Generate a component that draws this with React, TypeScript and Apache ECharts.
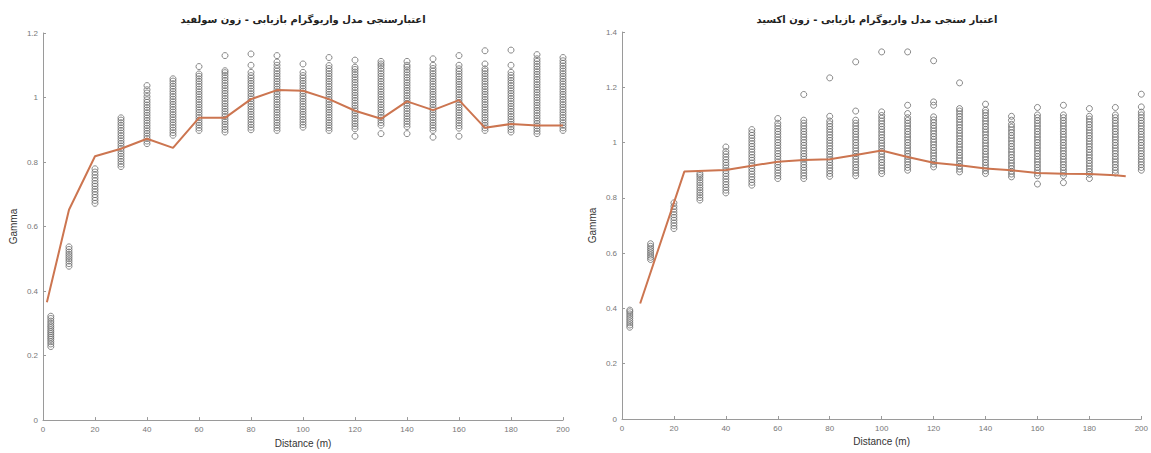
import React, { useEffect, useRef } from "react";
import * as echarts from "echarts";

// ---------- Titles / labels ----------
const sulfideTitle = "اعتبارسنجی مدل واریوگرام بازیابی - زون سولفید";
const oxideTitle = "اعتبار سنجی مدل واریوگرام بازیابی - زون اکسید";
const xName = "Distance (m)";
const yName = "Gamma";

// ---------- Sulfide zone (left) ----------
const sulfideLags = [3, 10, 20, 30, 40, 50, 60, 70, 80, 90, 100, 110, 120, 130, 140, 150, 160, 170, 180, 190, 200];
const sulfidePoints: number[][] = [
  [0.228, 0.236, 0.243, 0.25, 0.256, 0.262, 0.268, 0.274, 0.28, 0.287, 0.293, 0.3, 0.307, 0.315, 0.322],
  [0.477, 0.485, 0.493, 0.5, 0.507, 0.514, 0.521, 0.529, 0.537],
  [0.672, 0.681, 0.69, 0.699, 0.708, 0.716, 0.725, 0.733, 0.742, 0.751, 0.76, 0.769, 0.779],
  [0.786, 0.794, 0.802, 0.81, 0.818, 0.826, 0.834, 0.842, 0.85, 0.858, 0.866, 0.874, 0.882, 0.89, 0.898, 0.906, 0.914, 0.922, 0.93, 0.937],
  [0.857, 0.865, 0.873, 0.881, 0.889, 0.897, 0.905, 0.913, 0.921, 0.929, 0.937, 0.945, 0.953, 0.961, 0.969, 0.977, 0.985, 0.993, 1.003, 1.014, 1.024, 1.037],
  [0.883, 0.891, 0.899, 0.907, 0.915, 0.923, 0.931, 0.939, 0.947, 0.955, 0.963, 0.971, 0.979, 0.987, 0.995, 1.003, 1.011, 1.019, 1.027, 1.035, 1.043, 1.051, 1.058],
  [0.898, 0.906, 0.914, 0.922, 0.93, 0.938, 0.946, 0.954, 0.962, 0.97, 0.978, 0.986, 0.994, 1.002, 1.01, 1.018, 1.026, 1.034, 1.042, 1.05, 1.058, 1.066, 1.073, 1.096],
  [0.893, 0.901, 0.909, 0.917, 0.925, 0.933, 0.941, 0.949, 0.957, 0.965, 0.973, 0.981, 0.989, 0.997, 1.005, 1.013, 1.021, 1.029, 1.037, 1.045, 1.053, 1.061, 1.069, 1.077, 1.083, 1.13],
  [0.9, 0.908, 0.916, 0.924, 0.932, 0.94, 0.948, 0.956, 0.964, 0.972, 0.98, 0.988, 0.996, 1.004, 1.012, 1.02, 1.028, 1.036, 1.044, 1.052, 1.06, 1.068, 1.078, 1.1, 1.135],
  [0.898, 0.906, 0.914, 0.922, 0.93, 0.938, 0.946, 0.954, 0.962, 0.97, 0.978, 0.986, 0.994, 1.002, 1.01, 1.018, 1.026, 1.034, 1.042, 1.05, 1.058, 1.066, 1.074, 1.082, 1.09, 1.1, 1.11, 1.13],
  [0.908, 0.916, 0.924, 0.932, 0.94, 0.948, 0.956, 0.964, 0.972, 0.98, 0.988, 0.996, 1.004, 1.012, 1.02, 1.028, 1.036, 1.044, 1.052, 1.06, 1.068, 1.078, 1.104],
  [0.898, 0.906, 0.914, 0.922, 0.93, 0.938, 0.946, 0.954, 0.962, 0.97, 0.978, 0.986, 0.994, 1.002, 1.01, 1.018, 1.026, 1.034, 1.042, 1.05, 1.058, 1.066, 1.074, 1.082, 1.09, 1.099, 1.124],
  [0.88, 0.903, 0.911, 0.919, 0.927, 0.935, 0.943, 0.951, 0.959, 0.967, 0.975, 0.983, 0.991, 0.999, 1.007, 1.015, 1.023, 1.031, 1.039, 1.047, 1.055, 1.063, 1.071, 1.079, 1.087, 1.094, 1.116],
  [0.888, 0.914, 0.922, 0.93, 0.938, 0.946, 0.954, 0.962, 0.97, 0.978, 0.986, 0.994, 1.002, 1.01, 1.018, 1.026, 1.034, 1.042, 1.05, 1.058, 1.066, 1.074, 1.082, 1.09, 1.098, 1.104, 1.112],
  [0.888, 0.91, 0.918, 0.926, 0.934, 0.942, 0.95, 0.958, 0.966, 0.974, 0.982, 0.99, 0.998, 1.006, 1.014, 1.022, 1.03, 1.038, 1.046, 1.054, 1.062, 1.07, 1.078, 1.086, 1.094, 1.1, 1.112],
  [0.877, 0.898, 0.906, 0.914, 0.922, 0.93, 0.938, 0.946, 0.954, 0.962, 0.97, 0.978, 0.986, 0.994, 1.002, 1.01, 1.018, 1.026, 1.034, 1.042, 1.05, 1.058, 1.066, 1.074, 1.082, 1.09, 1.1, 1.12],
  [0.88, 0.905, 0.913, 0.921, 0.929, 0.937, 0.945, 0.953, 0.961, 0.969, 0.977, 0.985, 0.993, 1.001, 1.009, 1.017, 1.025, 1.033, 1.041, 1.049, 1.057, 1.065, 1.073, 1.081, 1.089, 1.1, 1.13],
  [0.898, 0.906, 0.914, 0.922, 0.93, 0.938, 0.946, 0.954, 0.962, 0.97, 0.978, 0.986, 0.994, 1.002, 1.01, 1.018, 1.026, 1.034, 1.042, 1.05, 1.058, 1.066, 1.074, 1.082, 1.089, 1.104, 1.145],
  [0.893, 0.901, 0.909, 0.917, 0.925, 0.933, 0.941, 0.949, 0.957, 0.965, 0.973, 0.981, 0.989, 0.997, 1.005, 1.013, 1.021, 1.029, 1.037, 1.045, 1.053, 1.061, 1.069, 1.078, 1.1, 1.147],
  [0.888, 0.896, 0.904, 0.912, 0.92, 0.928, 0.936, 0.944, 0.952, 0.96, 0.968, 0.976, 0.984, 0.992, 1.0, 1.008, 1.016, 1.024, 1.032, 1.04, 1.048, 1.056, 1.064, 1.072, 1.08, 1.088, 1.096, 1.104, 1.112, 1.12, 1.133],
  [0.898, 0.906, 0.914, 0.922, 0.93, 0.938, 0.946, 0.954, 0.962, 0.97, 0.978, 0.986, 0.994, 1.002, 1.01, 1.018, 1.026, 1.034, 1.042, 1.05, 1.058, 1.066, 1.074, 1.082, 1.09, 1.098, 1.106, 1.114, 1.124],
];
const sulfideModelLags = [1.5, 10, 20, 30, 40, 50, 60, 70, 80, 90, 100, 110, 120, 130, 140, 150, 160, 170, 180, 190, 200];
const sulfideModel = [0.365, 0.652, 0.818, 0.841, 0.872, 0.844, 0.937, 0.937, 0.995, 1.023, 1.021, 0.995, 0.959, 0.934, 0.988, 0.961, 0.992, 0.906, 0.918, 0.913, 0.913];

// ---------- Oxide zone (right) ----------
const oxideLags = [3, 11, 20, 30, 40, 50, 60, 70, 80, 90, 100, 110, 120, 130, 140, 150, 160, 170, 180, 190, 200];
const oxidePoints: number[][] = [
  [0.332, 0.34, 0.348, 0.356, 0.364, 0.372, 0.38, 0.388, 0.394],
  [0.577, 0.585, 0.593, 0.601, 0.609, 0.617, 0.625, 0.634],
  [0.689, 0.699, 0.709, 0.719, 0.729, 0.739, 0.749, 0.759, 0.769, 0.782],
  [0.792, 0.801, 0.81, 0.819, 0.828, 0.837, 0.846, 0.855, 0.864, 0.873, 0.881, 0.888],
  [0.818, 0.828, 0.838, 0.848, 0.858, 0.868, 0.878, 0.888, 0.898, 0.908, 0.918, 0.928, 0.938, 0.948, 0.958, 0.968, 0.984],
  [0.846, 0.856, 0.866, 0.876, 0.886, 0.896, 0.906, 0.916, 0.926, 0.936, 0.946, 0.956, 0.966, 0.976, 0.986, 0.996, 1.006, 1.016, 1.026, 1.036, 1.047],
  [0.87, 0.88, 0.89, 0.9, 0.91, 0.92, 0.93, 0.94, 0.95, 0.96, 0.97, 0.98, 0.99, 1.0, 1.01, 1.02, 1.03, 1.04, 1.05, 1.06, 1.07, 1.087],
  [0.87, 0.88, 0.89, 0.9, 0.91, 0.92, 0.93, 0.94, 0.95, 0.96, 0.97, 0.98, 0.99, 1.0, 1.01, 1.02, 1.03, 1.04, 1.05, 1.06, 1.07, 1.081, 1.174],
  [0.878, 0.888, 0.898, 0.908, 0.918, 0.928, 0.938, 0.948, 0.958, 0.968, 0.978, 0.988, 0.998, 1.008, 1.018, 1.028, 1.038, 1.048, 1.058, 1.068, 1.078, 1.095, 1.234],
  [0.88, 0.89, 0.9, 0.91, 0.92, 0.93, 0.94, 0.95, 0.96, 0.97, 0.98, 0.99, 1.0, 1.01, 1.02, 1.03, 1.04, 1.05, 1.06, 1.07, 1.081, 1.114, 1.292],
  [0.888, 0.898, 0.908, 0.918, 0.928, 0.938, 0.948, 0.958, 0.968, 0.978, 0.988, 0.998, 1.008, 1.018, 1.028, 1.038, 1.048, 1.058, 1.068, 1.078, 1.088, 1.098, 1.111, 1.328],
  [0.9, 0.91, 0.92, 0.93, 0.94, 0.95, 0.96, 0.97, 0.98, 0.99, 1.0, 1.01, 1.02, 1.03, 1.04, 1.05, 1.06, 1.07, 1.08, 1.09, 1.105, 1.135, 1.328],
  [0.912, 0.922, 0.932, 0.942, 0.952, 0.962, 0.972, 0.982, 0.992, 1.002, 1.012, 1.022, 1.032, 1.042, 1.052, 1.062, 1.072, 1.082, 1.093, 1.135, 1.147, 1.296],
  [0.894, 0.904, 0.914, 0.924, 0.934, 0.944, 0.954, 0.964, 0.974, 0.984, 0.994, 1.004, 1.014, 1.024, 1.034, 1.044, 1.054, 1.064, 1.074, 1.084, 1.094, 1.104, 1.114, 1.123, 1.216],
  [0.888, 0.898, 0.908, 0.918, 0.928, 0.938, 0.948, 0.958, 0.968, 0.978, 0.988, 0.998, 1.008, 1.018, 1.028, 1.038, 1.048, 1.058, 1.068, 1.078, 1.088, 1.098, 1.108, 1.117, 1.139],
  [0.876, 0.886, 0.896, 0.906, 0.916, 0.926, 0.936, 0.946, 0.956, 0.966, 0.976, 0.986, 0.996, 1.006, 1.016, 1.026, 1.036, 1.046, 1.056, 1.066, 1.081, 1.095],
  [0.85, 0.88, 0.89, 0.9, 0.91, 0.92, 0.93, 0.94, 0.95, 0.96, 0.97, 0.98, 0.99, 1.0, 1.01, 1.02, 1.03, 1.04, 1.05, 1.06, 1.07, 1.08, 1.09, 1.1, 1.127],
  [0.855, 0.88, 0.89, 0.9, 0.91, 0.92, 0.93, 0.94, 0.95, 0.96, 0.97, 0.98, 0.99, 1.0, 1.01, 1.02, 1.03, 1.04, 1.05, 1.06, 1.07, 1.08, 1.09, 1.1, 1.135],
  [0.87, 0.885, 0.895, 0.905, 0.915, 0.925, 0.935, 0.945, 0.955, 0.965, 0.975, 0.985, 0.995, 1.005, 1.015, 1.025, 1.035, 1.045, 1.055, 1.065, 1.075, 1.085, 1.095, 1.123],
  [0.89, 0.9, 0.91, 0.92, 0.93, 0.94, 0.95, 0.96, 0.97, 0.98, 0.99, 1.0, 1.01, 1.02, 1.03, 1.04, 1.05, 1.06, 1.07, 1.08, 1.09, 1.1, 1.127],
  [0.9, 0.91, 0.92, 0.93, 0.94, 0.95, 0.96, 0.97, 0.98, 0.99, 1.0, 1.01, 1.02, 1.03, 1.04, 1.05, 1.06, 1.07, 1.08, 1.09, 1.1, 1.11, 1.129, 1.175],
];
const oxideModelLags = [7, 24, 40, 50, 60, 70, 80, 90, 100, 110, 120, 130, 140, 150, 160, 170, 180, 190, 194];
const oxideModel = [0.418, 0.895, 0.901, 0.916, 0.931, 0.937, 0.94, 0.955, 0.971, 0.948, 0.927, 0.918, 0.906, 0.9, 0.89, 0.887, 0.886, 0.882, 0.878];

// ---------- helpers ----------
const pairs = (lags: number[], groups: number[][]) =>
  lags.flatMap((lag, i) => groups[i].map((v) => [lag, v]));
const linePairs = (lags: number[], vals: number[]) => lags.map((lag, i) => [lag, vals[i]]);

const axisColor = "#9a9a9a";
const labelFont = "Liberation Sans";

const makeX = (gridIndex: number) => ({
  type: "value",
  gridIndex,
  min: 0,
  max: 200,
  interval: 20,
  name: xName,
  nameLocation: "middle",
  nameGap: 17,
  nameTextStyle: { fontSize: 10, color: "#333", fontFamily: labelFont },
  axisLine: { lineStyle: { color: axisColor, width: 1 } },
  axisTick: { inside: true, length: 3, lineStyle: { color: axisColor } },
  axisLabel: { fontSize: 8, color: "#777", margin: 5, fontFamily: labelFont },
  splitLine: { show: false },
});

const makeY = (gridIndex: number, max: number) => ({
  type: "value",
  gridIndex,
  min: 0,
  max,
  interval: 0.2,
  name: yName,
  nameLocation: "middle",
  nameGap: 25,
  nameTextStyle: { fontSize: 10, color: "#333", fontFamily: labelFont },
  axisLine: { show: true, lineStyle: { color: axisColor, width: 1 } },
  axisTick: { show: true, inside: true, length: 3, lineStyle: { color: axisColor } },
  axisLabel: { fontSize: 8, color: "#777", margin: 5, fontFamily: labelFont },
  splitLine: { show: false },
});

const scatterStyle = {
  type: "scatter",
  symbol: "circle",
  symbolSize: 6,
  itemStyle: { color: "rgba(0,0,0,0)", borderColor: "#6c6c6c", borderWidth: 1 },
  z: 2,
};

const lineStyle = {
  type: "line",
  symbol: "none",
  lineStyle: { color: "#cc7550", width: 2 },
  z: 3,
};

export default function App() {
  const ref = useRef<HTMLDivElement>(null);
  useEffect(() => {
    document.body.style.margin = "0";
    const chart = echarts.init(ref.current!, null, { renderer: "svg" });
    chart.setOption({
      animation: false,
      backgroundColor: "#fff",
      grid: [
        { left: 43, top: 33, width: 520, height: 388 },
        { left: 622, top: 32, width: 526, height: 387 },
      ],
      xAxis: [makeX(0), makeX(1)],
      yAxis: [makeY(0, 1.2), makeY(1, 1.4)],
      graphic: [
        {
          type: "text",
          x: 303,
          y: 19,
          style: {
            text: sulfideTitle,
            align: "center",
            verticalAlign: "middle",
            fontSize: 10,
            fontWeight: "bold",
            fontFamily: "DejaVu Sans",
            fill: "#222",
          },
        },
        {
          type: "text",
          x: 877,
          y: 19,
          style: {
            text: oxideTitle,
            align: "center",
            verticalAlign: "middle",
            fontSize: 10,
            fontWeight: "bold",
            fontFamily: "DejaVu Sans",
            fill: "#222",
          },
        },
      ],
      series: [
        { ...scatterStyle, xAxisIndex: 0, yAxisIndex: 0, data: pairs(sulfideLags, sulfidePoints) },
        { ...lineStyle, xAxisIndex: 0, yAxisIndex: 0, data: linePairs(sulfideModelLags, sulfideModel) },
        { ...scatterStyle, xAxisIndex: 1, yAxisIndex: 1, data: pairs(oxideLags, oxidePoints) },
        { ...lineStyle, xAxisIndex: 1, yAxisIndex: 1, data: linePairs(oxideModelLags, oxideModel) },
      ],
    });
    return () => chart.dispose();
  }, []);
  return <div ref={ref} style={{ width: 1151, height: 453 }} />;
}
